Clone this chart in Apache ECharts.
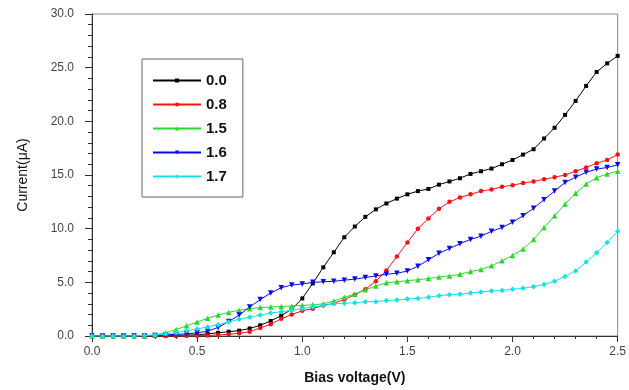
<!DOCTYPE html>
<html>
<head>
<meta charset="utf-8">
<script src="https://cdn.jsdelivr.net/npm/echarts@6/dist/echarts.min.js"></script>
<style>html,body{margin:0;padding:0;background:#fff}#c{width:629px;height:390px}</style>
</head>
<body>
<div id="c"></div>
<script>
// Bias voltage (V), 0.00 .. 2.50 step 0.05
var voltage = [0.00,0.05,0.10,0.15,0.20,0.25,0.30,0.35,0.40,0.45,0.50,0.55,0.60,0.65,0.70,0.75,0.80,0.85,0.90,0.95,1.00,1.05,1.10,1.15,1.20,1.25,1.30,1.35,1.40,1.45,1.50,1.55,1.60,1.65,1.70,1.75,1.80,1.85,1.90,1.95,2.00,2.05,2.10,2.15,2.20,2.25,2.30,2.35,2.40,2.45,2.50];
var seriesNames = ['0.0','0.8','1.5','1.6','1.7'];
var cur00 = [0,0,0,0,0,0,0,0.02,0.05,0.08,0.12,0.2,0.3,0.4,0.5,0.7,1.0,1.4,1.9,2.5,3.5,4.9,6.4,7.8,9.2,10.2,11.1,11.8,12.35,12.8,13.2,13.5,13.7,14.1,14.4,14.7,15.1,15.35,15.6,16.0,16.4,16.9,17.4,18.4,19.4,20.6,21.9,23.3,24.6,25.4,26.1];
var cur08 = [0,0,0,0,0,0,0,0,0,0.02,0.03,0.05,0.1,0.15,0.25,0.4,0.75,1.1,1.6,2.0,2.35,2.55,2.85,3.05,3.4,3.85,4.35,5.1,6.1,7.4,8.7,10.0,10.95,11.85,12.5,12.9,13.2,13.5,13.65,13.9,14.05,14.25,14.4,14.6,14.8,15.0,15.35,15.7,16.1,16.4,16.9];
var cur15 = [0,0,0,0,0,0,0.1,0.3,0.6,0.95,1.3,1.65,1.95,2.2,2.4,2.55,2.65,2.7,2.75,2.8,2.85,2.9,3.0,3.25,3.6,3.9,4.3,4.65,4.95,5.05,5.15,5.25,5.35,5.5,5.6,5.75,6.0,6.2,6.55,7.0,7.5,8.1,9.0,10.1,11.2,12.3,13.3,14.15,14.75,15.1,15.35];
var cur16 = [0,0,0,0,0,0,0.05,0.1,0.15,0.2,0.3,0.45,0.8,1.35,1.95,2.7,3.4,4.0,4.5,4.75,4.85,5.0,5.05,5.1,5.2,5.3,5.45,5.6,5.75,5.85,6.05,6.5,7.1,7.7,8.15,8.6,9.0,9.3,9.75,10.1,10.6,11.2,11.9,12.7,13.5,14.3,14.8,15.25,15.55,15.7,15.95];
var cur17 = [0,0,0,0,0,0.05,0.1,0.2,0.3,0.5,0.65,0.85,1.05,1.3,1.55,1.75,1.95,2.15,2.25,2.4,2.55,2.7,2.85,3.0,3.05,3.1,3.2,3.2,3.3,3.35,3.45,3.5,3.6,3.75,3.85,3.9,4.0,4.1,4.2,4.25,4.35,4.45,4.6,4.8,5.1,5.55,6.05,6.9,7.75,8.7,9.75];
var xTicks = ['0.0','0.5','1.0','1.5','2.0','2.5'];
var yTicks = ['0.0','5.0','10.0','15.0','20.0','25.0','30.0'];

var colors = ['#000000','#ff1010','#2ad82a','#0a0aee','#10e4e4'];
var symbols = ['rect','circle','triangle','triangle','diamond'];
var rotates = [0,0,0,180,0];
var sizes = [4,4.5,5.5,5.5,5.5];
var allData = [cur00,cur08,cur15,cur16,cur17];

function pairs(arr){ return voltage.map(function(v,i){ return [v, arr[i]]; }); }

var series = allData.map(function(arr,k){
  return {
    name: seriesNames[k], type:'line', data: pairs(arr),
    symbol: symbols[k], symbolRotate: rotates[k], symbolSize: sizes[k],
    showAllSymbol: true,
    lineStyle:{color:colors[k], width:1},
    itemStyle:{color:colors[k]},
    animation:false
  };
});

var chart = echarts.init(document.getElementById('c'), null, {renderer:'canvas'});
chart.setOption({
  animation:false,
  backgroundColor:'#ffffff',
  grid:{left:92, right:6, top:14, bottom:53, show:true, borderColor:'#888', borderWidth:1},
  legend:{
    orient:'vertical', left:142, top:59,
    padding:[13,16,12,10], itemGap:7, itemWidth:48, itemHeight:5,
    borderColor:'#666', borderWidth:1,
    textStyle:{fontFamily:'Liberation Sans, Arial', fontSize:15, fontWeight:'bold', color:'#111', lineHeight:17},
    data: seriesNames
  },
  xAxis:{
    type:'value', min:0, max:2.5, interval:0.5,
    name:'Bias voltage(V)', nameLocation:'middle', nameGap:35,
    nameTextStyle:{fontFamily:'Liberation Sans, Arial', fontSize:14, fontWeight:'bold', color:'#111'},
    axisLine:{show:true, onZero:false, lineStyle:{color:'#333', width:1}},
    axisTick:{show:true, length:6, lineStyle:{color:'#333'}},
    minorTick:{show:true, splitNumber:5, length:3, lineStyle:{color:'#333'}},
    splitLine:{show:false},
    axisLabel:{margin:10, fontFamily:'Liberation Sans, Arial', fontSize:12, color:'#444',
      formatter:function(v){ var i=Math.round(v/0.5); return xTicks[i]; }}
  },
  yAxis:{
    type:'value', min:0, max:30, interval:5,
    name:'Current(μA)', nameLocation:'middle', nameGap:62, nameRotate:90,
    nameTextStyle:{fontFamily:'Liberation Sans, Arial', fontSize:14, color:'#111'},
    axisLine:{show:true, lineStyle:{color:'#333', width:1}},
    axisTick:{show:true, length:7, lineStyle:{color:'#333'}},
    minorTick:{show:true, splitNumber:5, length:4, lineStyle:{color:'#333'}},
    splitLine:{show:false},
    axisLabel:{margin:18, fontFamily:'Liberation Sans, Arial', fontSize:12, color:'#444',
      formatter:function(v){ var i=Math.round(v/5); return yTicks[i]; }}
  },
  series: series
});
</script>
</body>
</html>
